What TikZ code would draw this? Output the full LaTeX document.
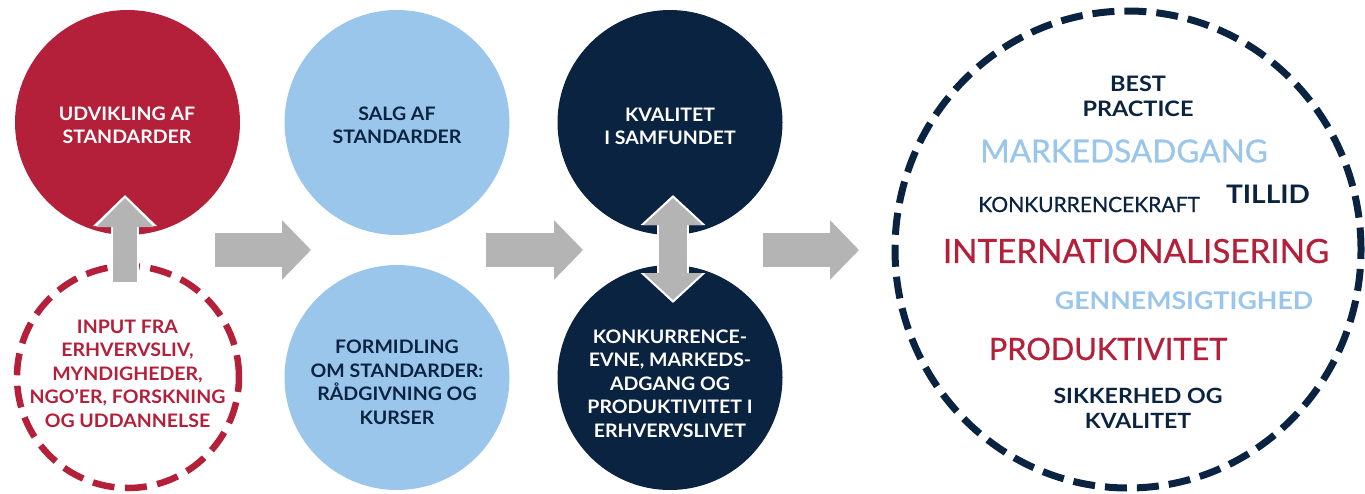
\documentclass[tikz,border=0pt]{standalone}
\usepackage{fontspec}
\setmainfont{Lato}[BoldFont={Lato Bold}]
\newfontfamily\wideb{Lato Bold}[FakeStretch=1.1]
\newfontfamily\widec{Lato Bold}[FakeStretch=1.05]
\newfontfamily\medw{Lato}[FakeBold=0.7]
\usetikzlibrary{arrows.meta,shapes.geometric}
\definecolor{dsred}{RGB}{180,31,58}
\definecolor{dsblue}{RGB}{155,198,235}
\definecolor{dsnavy}{RGB}{10,35,64}
\definecolor{dsgray}{RGB}{180,180,180}
\tikzset{
  disc/.style={circle, inner sep=0pt, minimum size=225pt},
  ctext/.style={align=center, inner sep=0pt, font=\widec\fontsize{18.6}{23.5}\selectfont},
  word/.style={inner sep=0pt, align=center},
  flowarrow/.style={dsgray, line width=34pt, -{Triangle[width=58pt,length=29pt]}},
}
\begin{document}
\begin{tikzpicture}[x=1pt,y=-1pt]
\useasboundingbox (0,0) rectangle (1365,493);
% discs
\node[disc, fill=dsred] (udv) at (127.5,122.5) {};
\node[disc, draw=dsred, line width=6.5pt, dash pattern=on 22pt off 10.5pt, minimum size=222pt] (inp) at (128,377) {};
\node[disc, fill=dsblue] (salg) at (397,122.5) {};
\node[disc, fill=dsblue] (form) at (397,377.5) {};
\node[disc, fill=dsnavy] (kval) at (670,122.5) {};
\node[disc, fill=dsnavy] (konk) at (670,377.5) {};
\node[ellipse, draw=dsnavy, line width=7pt, dash pattern=on 22pt off 10pt, minimum width=466pt, minimum height=477pt, inner sep=0pt] (res) at (1128,249.5) {};
% arrows
\coordinate (a1s) at (215,250); \coordinate (a1e) at (311,250);
\coordinate (a2s) at (486,250); \coordinate (a2e) at (583,250);
\coordinate (a3s) at (763,250); \coordinate (a3e) at (859,250);
\draw[flowarrow] (a1s) -- (a1e);
\draw[flowarrow] (a2s) -- (a2e);
\draw[flowarrow] (a3s) -- (a3e);
\coordinate (ups) at (125,282); \coordinate (upe) at (125,198);
\coordinate (upew) at (125,195);
\draw[white, line width=28pt, -{Triangle[width=62pt,length=31pt]}] (ups) -- (upew);
\draw[dsgray, line width=24pt, -{Triangle[width=56pt,length=29pt]}] (ups) -- (upe);
\coordinate (d1) at (673,198); \coordinate (d2) at (673,300);
\coordinate (d1w) at (673,195); \coordinate (d2w) at (673,303);
\draw[white, line width=32pt, {Triangle[width=63pt,length=30pt]}-{Triangle[width=63pt,length=30pt]}] (d1w) -- (d2w);
\draw[dsgray, line width=28pt, {Triangle[width=57pt,length=27pt]}-{Triangle[width=57pt,length=27pt]}] (d1) -- (d2);
% texts in discs
\node[ctext, text=white] (tudv) at (127,125.5) {UDVIKLING AF\\STANDARDER};
\node[ctext, text=dsred] (tinp) at (127.5,373.5) {INPUT FRA\\ERHVERVSLIV,\\MYNDIGHEDER,\\NGO’ER, FORSKNING\\OG UDDANNELSE};
\node[ctext, text=dsnavy] (tsalg) at (397,125.5) {SALG AF\\STANDARDER};
\node[ctext, text=dsnavy] (tform) at (397,382.5) {FORMIDLING\\OM STANDARDER:\\RÅDGIVNING OG\\KURSER};
\node[ctext, text=white] (tkval) at (670,126.5) {KVALITET\\I SAMFUNDET};
\node[ctext, text=white] (tkonk) at (670,383.5) {KONKURRENCE-\\EVNE, MARKEDS-\\ADGANG OG\\PRODUKTIVITET I\\ERHVERVSLIVET};
% words in result circle
\node[word, text=dsnavy, font=\wideb\fontsize{21.3}{25}\selectfont] (w1) at (1138,96) {BEST\\PRACTICE};
\node[word, text=dsblue, font=\medw\fontsize{31.6}{30}\selectfont] (w2) at (1124,151) {MARKEDSADGANG};
\node[word, text=dsnavy, font=\medw\fontsize{21}{21}\selectfont] (w3) at (1089,204.5) {KONKURRENCEKRAFT};
\node[word, text=dsnavy, font=\wideb\fontsize{25.5}{25}\selectfont] (w4) at (1268,194) {TILLID};
\node[word, text=dsred, font=\medw\fontsize{33.2}{33}\selectfont] (w5) at (1136,251) {INTERNATIONALISERING};
\node[word, text=dsblue, font=\wideb\fontsize{24.3}{25}\selectfont] (w6) at (1184,301) {GENNEMSIGTIGHED};
\node[word, text=dsred, font=\medw\fontsize{30.7}{30}\selectfont] (w7) at (1108,349) {PRODUKTIVITET};
\node[word, text=dsnavy, font=\wideb\fontsize{21}{25}\selectfont] (w8) at (1138,408) {SIKKERHED OG\\KVALITET};
\end{tikzpicture}
\end{document}
